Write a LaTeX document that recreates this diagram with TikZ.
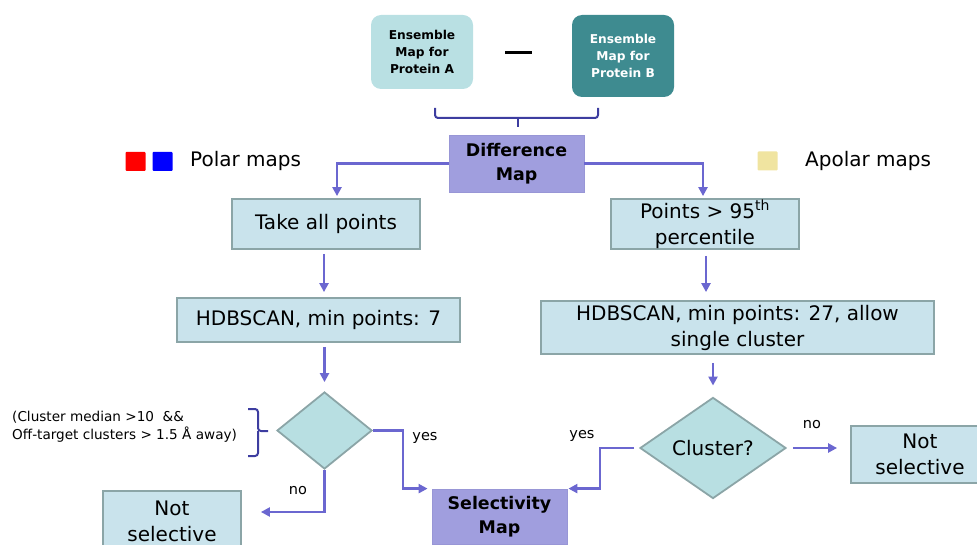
\documentclass[tikz,border=0pt]{standalone}
\usepackage{fontspec}
\setmainfont{DejaVu Sans}
\usetikzlibrary{shapes.geometric,arrows.meta}

\definecolor{ensAfill}{HTML}{B9E0E3}
\definecolor{ensBfill}{HTML}{3E8B90}
\definecolor{mapfill}{HTML}{A09EDE}
\definecolor{mapline}{HTML}{9896D6}
\definecolor{procfill}{HTML}{C9E3EC}
\definecolor{procline}{HTML}{8BA5A7}
\definecolor{decfill}{HTML}{B8DFE2}
\definecolor{flowc}{HTML}{6B67D0}
\definecolor{bracec}{HTML}{3D3DA0}
\definecolor{apolar}{HTML}{F0E4A0}

\begin{document}
\begin{tikzpicture}[x=1pt, y=-1pt,
    ensemble/.style={rectangle, rounded corners=10pt, align=center, inner sep=0pt,
      font=\fontsize{12.2}{17}\selectfont\bfseries},
    mapbox/.style={rectangle, fill=mapfill, draw=mapline, line width=0.8pt, align=center,
      inner sep=0pt, font=\fontsize{17.4}{24}\selectfont\bfseries},
    process/.style={rectangle, fill=procfill, draw=procline, line width=1.8pt, align=center,
      inner sep=0pt, font=\fontsize{20}{26}\selectfont},
    decision/.style={diamond, fill=decfill, draw=procline, line width=1.8pt, inner sep=1pt,
      align=center, font=\fontsize{20}{26}\selectfont},
    flow/.style={draw=flowc, line width=2.4pt, -{Triangle[length=9pt,width=9pt]}},
    bracket/.style={draw=bracec, line width=2pt, rounded corners=3pt},
    answer/.style={font=\fontsize{14.5}{16}\selectfont},
    legend/.style={font=\fontsize{20}{24}\selectfont, anchor=west, inner sep=0pt},
    swatch/.style={minimum width=20, minimum height=19, inner sep=0pt, rounded corners=1pt}]
  \useasboundingbox (0,0) rectangle (977,545);
  \clip (0,0) rectangle (977,545);

  % input maps
  \node[ensemble, fill=ensAfill, minimum width=102, minimum height=74] (ensA) at (422,52)
    {Ensemble\\Map for\\Protein A};
  \node[ensemble, fill=ensBfill, text=white, minimum width=102, minimum height=82] (ensB) at (623,56)
    {Ensemble\\Map for\\Protein B};
  \draw[line width=3pt] (505,53) -- (532,53);
  \draw[bracket] (435,108) |- (518,118) -| (598,108);
  \draw[bracket] (518,118) -- (518,127);

  \node[mapbox, minimum width=135, minimum height=57] (diff) at (516.5,163.5) {Difference\\Map};

  % legend
  \node[swatch, fill=red] (red) at (135.5,161.5) {};
  \node[swatch, fill=blue] (blue) at (162.5,161.5) {};
  \node[legend] (polar) at (190,161) {Polar maps};
  \node[swatch, fill=apolar] (yellow) at (767.5,161) {};
  \node[legend] (apol) at (805,161) {Apolar maps};

  % left branch
  \node[process, minimum width=188, minimum height=50] (take) at (326,224) {Take all points};
  \node[process, minimum width=283, minimum height=44] (hdbL) at (318.5,320) {HDBSCAN, min points: 7};
  \node[decision, minimum width=95, minimum height=77] (decL) at (324.5,430.5) {};
  \node[process, minimum width=138, minimum height=60] (notL) at (172,521) {Not\\selective};
  \node[anchor=west, align=left, inner sep=0pt, font=\fontsize{13.6}{17.5}\selectfont] (note) at (12,426.5)
    {(Cluster median >10\ \ \&\&\\Off-target clusters > 1.5 Å away)};
  \draw[bracket] (248,409) -| (258,431) -- (268,431);
  \draw[bracket] (248,456) -| (258,431);

  % right branch
  \node[process, minimum width=188, minimum height=50] (pct) at (705,224)
    {Points > 95\textsuperscript{th}\\percentile};
  \node[process, minimum width=393, minimum height=53] (hdbR) at (737.5,327.5)
    {HDBSCAN, min points: 27, allow\\single cluster};
  \node[decision, minimum width=146, minimum height=70] (decR) at (713,448) {Cluster?};
  \node[process, minimum width=138, minimum height=57] (notR) at (920,454.5) {Not\\selective};

  \node[mapbox, minimum width=135, minimum height=55] (sel) at (499.5,516.5) {Selectivity\\Map};

  % connectors
  \draw[flow, shorten >=2pt] (diff.west) -| ([xshift=11pt]take.north);
  \draw[flow, shorten >=2pt] (diff.east) -| ([xshift=-2pt]pct.north);
  \draw[flow, shorten <=4pt, shorten >=5pt] ([xshift=-2pt]take.south) -- ([xshift=-2pt]take.south |- hdbL.north);
  \draw[flow, shorten <=4pt, shorten >=9pt] (decL.north |- hdbL.south) -- (decL.north);
  \draw[flow, shorten <=6pt, shorten >=8pt] ([xshift=1pt]pct.south) -- ([xshift=1pt]pct.south |- hdbR.north);
  \draw[flow, shorten <=8pt, shorten >=11pt] (decR.north |- hdbR.south) -- (decR.north);
  \draw[flow, shorten >=2pt] (decL.east) -- ++(30,0) |- ([xshift=-2pt]sel.north west);
  \draw[flow, shorten <=5pt, shorten >=1pt] (decR.west) -- ++(-39,0) |- (sel.north east);
  \draw[flow, shorten >=19pt] (decL.south) |- ([yshift=9pt]notL.east);
  \draw[flow, shorten <=6pt, shorten >=13pt] (decR.east) -- (decR.east -| notR.west);

  \node[answer] (yesL) at (425,438) {yes};
  \node[answer] (noL) at (298,491) {no};
  \node[answer] (yesR) at (582,436) {yes};
  \node[answer] (noR) at (812,425) {no};
\end{tikzpicture}
\end{document}
